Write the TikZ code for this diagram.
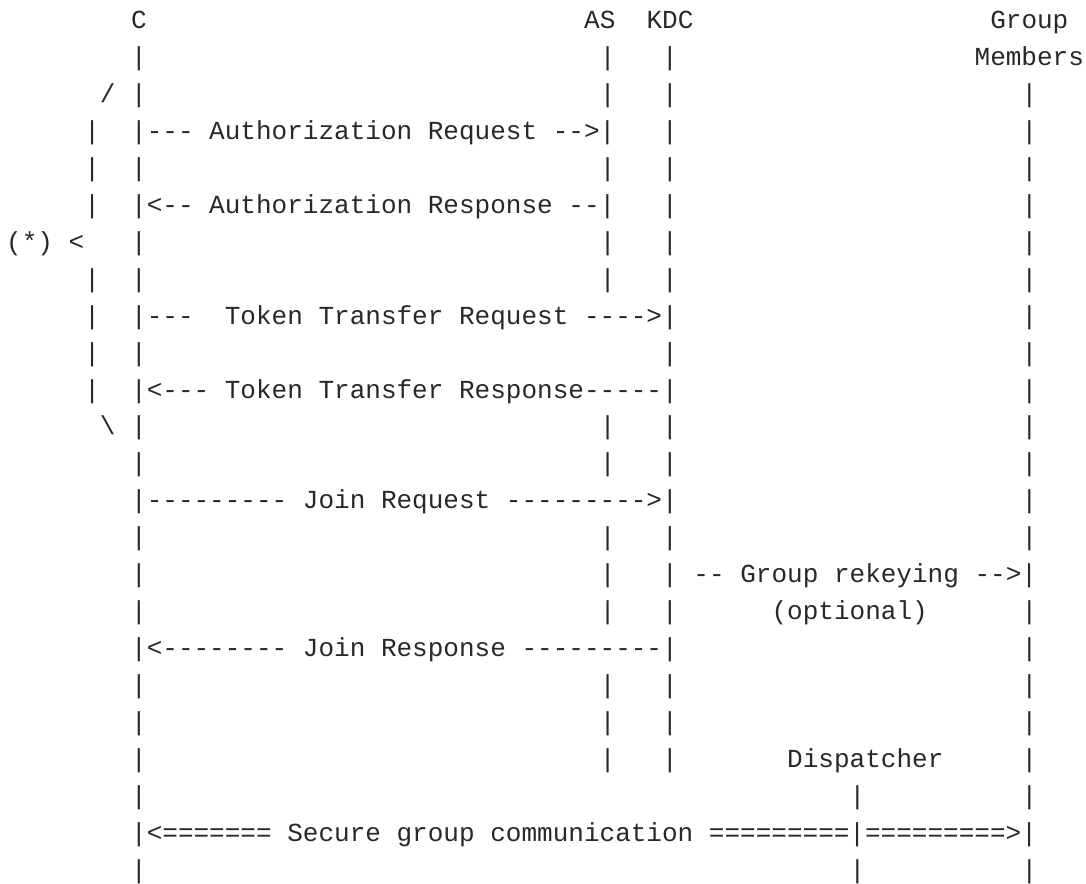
\documentclass[tikz,border=0pt]{standalone}
\usepackage{fontspec}
\setmonofont{Liberation Mono}
\definecolor{ink}{RGB}{40,40,40}
\newcommand\cw{11.715pt}
\newcommand\lh{27.71pt}
\newcommand\xo{4.65pt}
\newcommand\yo{21.4pt}
\tikzset{txt/.style={inner sep=0pt, outer sep=0pt, anchor=base west, text=ink,
  font=\ttfamily\fontsize{19.52pt}{24pt}\selectfont\frenchspacing}}
\newcommand\T[4]{\node[txt] (#1) at ({\xo+#2*\cw},{-\yo-#3*\lh}) {#4};}
\begin{document}
\begin{tikzpicture}
\useasboundingbox (0,0) rectangle (814.5pt,-663pt);
% row 0
\T{hC}{8}{0}{C} \T{hAS}{37}{0}{AS} \T{hKDC}{41}{0}{KDC} \T{hG}{63}{0}{Group}
% row 1
\T{r1a}{8}{1}{|} \T{r1b}{38}{1}{|} \T{r1c}{42}{1}{|} \T{hM}{62}{1}{Members}
% row 2
\T{r2s}{6}{2}{/} \T{r2a}{8}{2}{|} \T{r2b}{38}{2}{|} \T{r2c}{42}{2}{|} \T{r2d}{65}{2}{|}
% row 3
\T{r3l}{5}{3}{|} \T{m1}{8}{3}{|--- Authorization Request -->|} \T{r3c}{42}{3}{|} \T{r3d}{65}{3}{|}
% row 4
\T{r4l}{5}{4}{|} \T{r4a}{8}{4}{|} \T{r4b}{38}{4}{|} \T{r4c}{42}{4}{|} \T{r4d}{65}{4}{|}
% row 5
\T{r5l}{5}{5}{|} \T{m2}{8}{5}{|<-- Authorization Response --|} \T{r5c}{42}{5}{|} \T{r5d}{65}{5}{|}
% row 6
\T{star}{0}{6}{(*) <} \T{r6a}{8}{6}{|} \T{r6b}{38}{6}{|} \T{r6c}{42}{6}{|} \T{r6d}{65}{6}{|}
% row 7
\T{r7l}{5}{7}{|} \T{r7a}{8}{7}{|} \T{r7b}{38}{7}{|} \T{r7c}{42}{7}{|} \T{r7d}{65}{7}{|}
% row 8
\T{r8l}{5}{8}{|} \T{m3}{8}{8}{|---\ \ Token Transfer Request ---->|} \T{r8d}{65}{8}{|}
% row 9
\T{r9l}{5}{9}{|} \T{r9a}{8}{9}{|} \T{r9c}{42}{9}{|} \T{r9d}{65}{9}{|}
% row 10
\T{r10l}{5}{10}{|} \T{m4}{8}{10}{|<--- Token Transfer Response-----|} \T{r10d}{65}{10}{|}
% row 11
\T{r11s}{6}{11}{\textbackslash} \T{r11a}{8}{11}{|} \T{r11b}{38}{11}{|} \T{r11c}{42}{11}{|} \T{r11d}{65}{11}{|}
% row 12
\T{r12a}{8}{12}{|} \T{r12b}{38}{12}{|} \T{r12c}{42}{12}{|} \T{r12d}{65}{12}{|}
% row 13
\T{m5}{8}{13}{|--------- Join Request --------->|} \T{r13d}{65}{13}{|}
% row 14
\T{r14a}{8}{14}{|} \T{r14b}{38}{14}{|} \T{r14c}{42}{14}{|} \T{r14d}{65}{14}{|}
% row 15
\T{r15a}{8}{15}{|} \T{r15b}{38}{15}{|} \T{m6}{42}{15}{| -- Group rekeying -->|}
% row 16
\T{r16a}{8}{16}{|} \T{r16b}{38}{16}{|} \T{r16c}{42}{16}{|} \T{opt}{49}{16}{(optional)} \T{r16d}{65}{16}{|}
% row 17
\T{m7}{8}{17}{|<-------- Join Response ---------|} \T{r17d}{65}{17}{|}
% row 18
\T{r18a}{8}{18}{|} \T{r18b}{38}{18}{|} \T{r18c}{42}{18}{|} \T{r18d}{65}{18}{|}
% row 19
\T{r19a}{8}{19}{|} \T{r19b}{38}{19}{|} \T{r19c}{42}{19}{|} \T{r19d}{65}{19}{|}
% row 20
\T{r20a}{8}{20}{|} \T{r20b}{38}{20}{|} \T{r20c}{42}{20}{|} \T{disp}{50}{20}{Dispatcher} \T{r20d}{65}{20}{|}
% row 21
\T{r21a}{8}{21}{|} \T{r21e}{54}{21}{|} \T{r21d}{65}{21}{|}
% row 22
\T{m8}{8}{22}{|<======= Secure group communication =========|=========>|}
% row 23
\T{r23a}{8}{23}{|} \T{r23e}{54}{23}{|} \T{r23d}{65}{23}{|}
\end{tikzpicture}
\end{document}
